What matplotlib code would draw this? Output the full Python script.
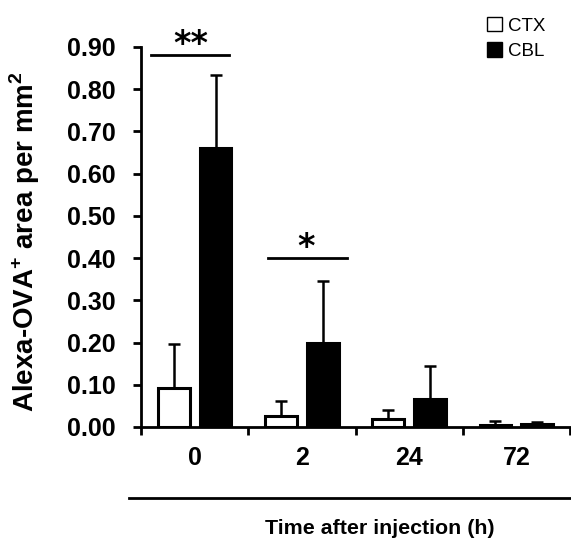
import numpy as np
import matplotlib
matplotlib.use("Agg")
from matplotlib import pyplot as plt
from matplotlib.patches import Patch
from matplotlib.lines import Line2D

plt.rcParams['font.family'] = ['Liberation Sans', 'DejaVu Sans']
plt.rcParams['mathtext.fontset'] = 'custom'
plt.rcParams['mathtext.rm'] = 'Liberation Sans'
plt.rcParams['mathtext.bf'] = 'Liberation Sans:bold'

# data
times = ["0", "2", "24", "72"]
ctx_mean = [0.092, 0.027, 0.020, 0.005]
ctx_err = [0.104, 0.035, 0.020, 0.010]
cbl_mean = [0.660, 0.200, 0.067, 0.006]
cbl_err = [0.173, 0.145, 0.078, 0.007]
yticks = [0.0, 0.1, 0.2, 0.3, 0.4, 0.5, 0.6, 0.7, 0.8, 0.9]

fig = plt.figure(figsize=(5.71, 5.42), dpi=100)
ax = fig.add_axes([141/571, 115/542, 429/571, 380/542])

x = np.arange(len(times))
w = 0.295
off = 0.195
ekw = dict(elinewidth=1.8, capthick=1.8, ecolor='black')
ax.bar(x - off, ctx_mean, w, color='white', edgecolor='black', linewidth=2.2,
       yerr=[np.zeros(4), ctx_err], capsize=4, error_kw=ekw, zorder=3)
ax.bar(x + off, cbl_mean, w, color='black', edgecolor='black', linewidth=2.2,
       yerr=[np.zeros(4), cbl_err], capsize=4, error_kw=ekw, zorder=3)

ax.set_xlim(-0.5, 3.5)
ax.set_ylim(0, 0.9)
ax.set_yticks(yticks)
ax.set_yticklabels(["%.2f" % v for v in yticks])
ax.set_xticks(np.arange(-0.5, 4, 1))
ax.set_xticklabels([])
ax.set_xticks(x, minor=True)
ax.set_xticklabels(times, minor=True)
ax.tick_params(axis='x', which='minor', length=0, pad=14)
ax.tick_params(axis='x', which='major', direction='out', length=6, width=2)
ax.tick_params(axis='y', direction='out', length=6, width=2, pad=12)
for lab in ax.get_xticklabels(minor=True) + ax.get_yticklabels():
    lab.set_fontsize(18)
    lab.set_fontweight('bold')

for s in ['top', 'right']:
    ax.spines[s].set_visible(False)
for s in ['left', 'bottom']:
    ax.spines[s].set_linewidth(2)

ax.set_ylabel(r"Alexa-OVA$^{\mathbf{+}}$ area per mm$^{\mathbf{2}}$",
              fontsize=20, fontweight='bold')
ax.yaxis.set_label_coords(-0.23, 0.489)

# significance marks
ax.plot([-0.406, 0.324], [0.88, 0.88], color='black', lw=2, clip_on=False)
ax.text(-0.032, 0.905, "**", ha='center', va='center', fontsize=24,
        family='DejaVu Sans', fontweight='bold', clip_on=False)
ax.plot([0.68, 1.42], [0.40, 0.40], color='black', lw=2, clip_on=False)
ax.text(1.036, 0.425, "*", ha='center', va='center', fontsize=24,
        family='DejaVu Sans', fontweight='bold', clip_on=False)

# line and label under the axis
fig.add_artist(Line2D([129/571, 1.0], [44/542, 44/542], color='black', lw=2))
fig.text(380/571, 13/542, "Time after injection (h)", ha='center', va='center',
         fontsize=15.4, fontweight='bold')

handles = [Patch(facecolor='white', edgecolor='black', linewidth=1),
           Patch(facecolor='black', edgecolor='black', linewidth=1)]
fig.legend(handles, ["CTX", "CBL"], loc='upper right',
           bbox_to_anchor=(562/571, 1.0), frameon=False, fontsize=13.5,
           handlelength=0.8, handleheight=0.8, handletextpad=0.3,
           labelspacing=0.42, borderpad=0.4)

fig.savefig("out.png", dpi=100)
